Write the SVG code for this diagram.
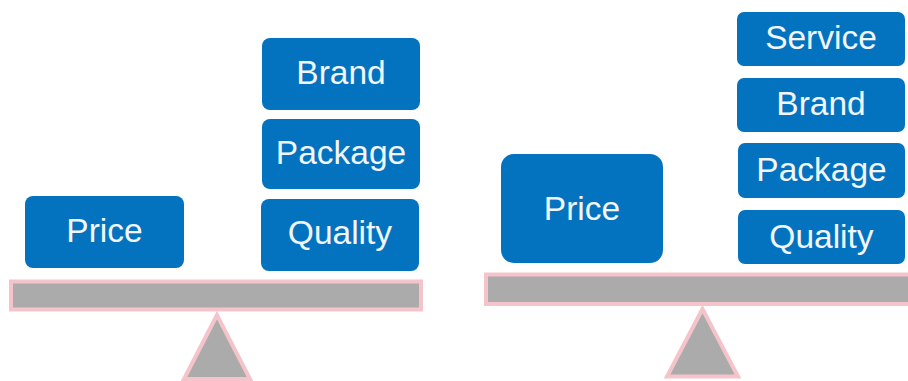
<svg xmlns="http://www.w3.org/2000/svg" width="908" height="381" viewBox="0 0 908 381">
<style>
.box{fill:#0473BF}
.lbl{font-family:"Liberation Sans",Arial,sans-serif;font-size:33.5px;fill:#F2F6FA;text-anchor:middle}
.gray{fill:#ABABAB;stroke:#F5C4CB;stroke-width:4;stroke-linejoin:miter}
</style>
<rect width="908" height="381" fill="#FFFFFF"/>
<g id="left-scale">
<g id="left-beam"><rect class="gray" x="11" y="281.5" width="410" height="28"/></g>
<g id="left-fulcrum"><polygon class="gray" points="217,315 184,379 250,379"/></g>
<g id="left-price"><rect class="box" x="25" y="196" width="159" height="72" rx="8"/><text class="lbl" x="104.5" y="242">Price</text></g>
<g id="left-brand"><rect class="box" x="262" y="38" width="158" height="72" rx="8"/><text class="lbl" x="341" y="84">Brand</text></g>
<g id="left-package"><rect class="box" x="262" y="119" width="158" height="70" rx="8"/><text class="lbl" x="341" y="163.5">Package</text></g>
<g id="left-quality"><rect class="box" x="261" y="199" width="158" height="72" rx="8"/><text class="lbl" x="340" y="244">Quality</text></g>
</g>
<g id="right-scale">
<g id="right-beam"><rect class="gray" x="486" y="274.5" width="426" height="29.5"/></g>
<g id="right-fulcrum"><polygon class="gray" points="702.5,309 667,376.5 738,376.5"/></g>
<g id="right-price"><rect class="box" x="501" y="154" width="162" height="109" rx="13"/><text class="lbl" x="582" y="220">Price</text></g>
<g id="right-service"><rect class="box" x="737" y="12" width="168" height="54" rx="7"/><text class="lbl" x="821" y="49">Service</text></g>
<g id="right-brand"><rect class="box" x="737" y="78" width="168" height="54" rx="7"/><text class="lbl" x="821" y="115">Brand</text></g>
<g id="right-package"><rect class="box" x="738" y="143" width="167" height="55" rx="7"/><text class="lbl" x="821.5" y="181">Package</text></g>
<g id="right-quality"><rect class="box" x="738" y="210" width="167" height="54" rx="7"/><text class="lbl" x="821.5" y="248">Quality</text></g>
</g>
<g id="connectors"></g>
</svg>
